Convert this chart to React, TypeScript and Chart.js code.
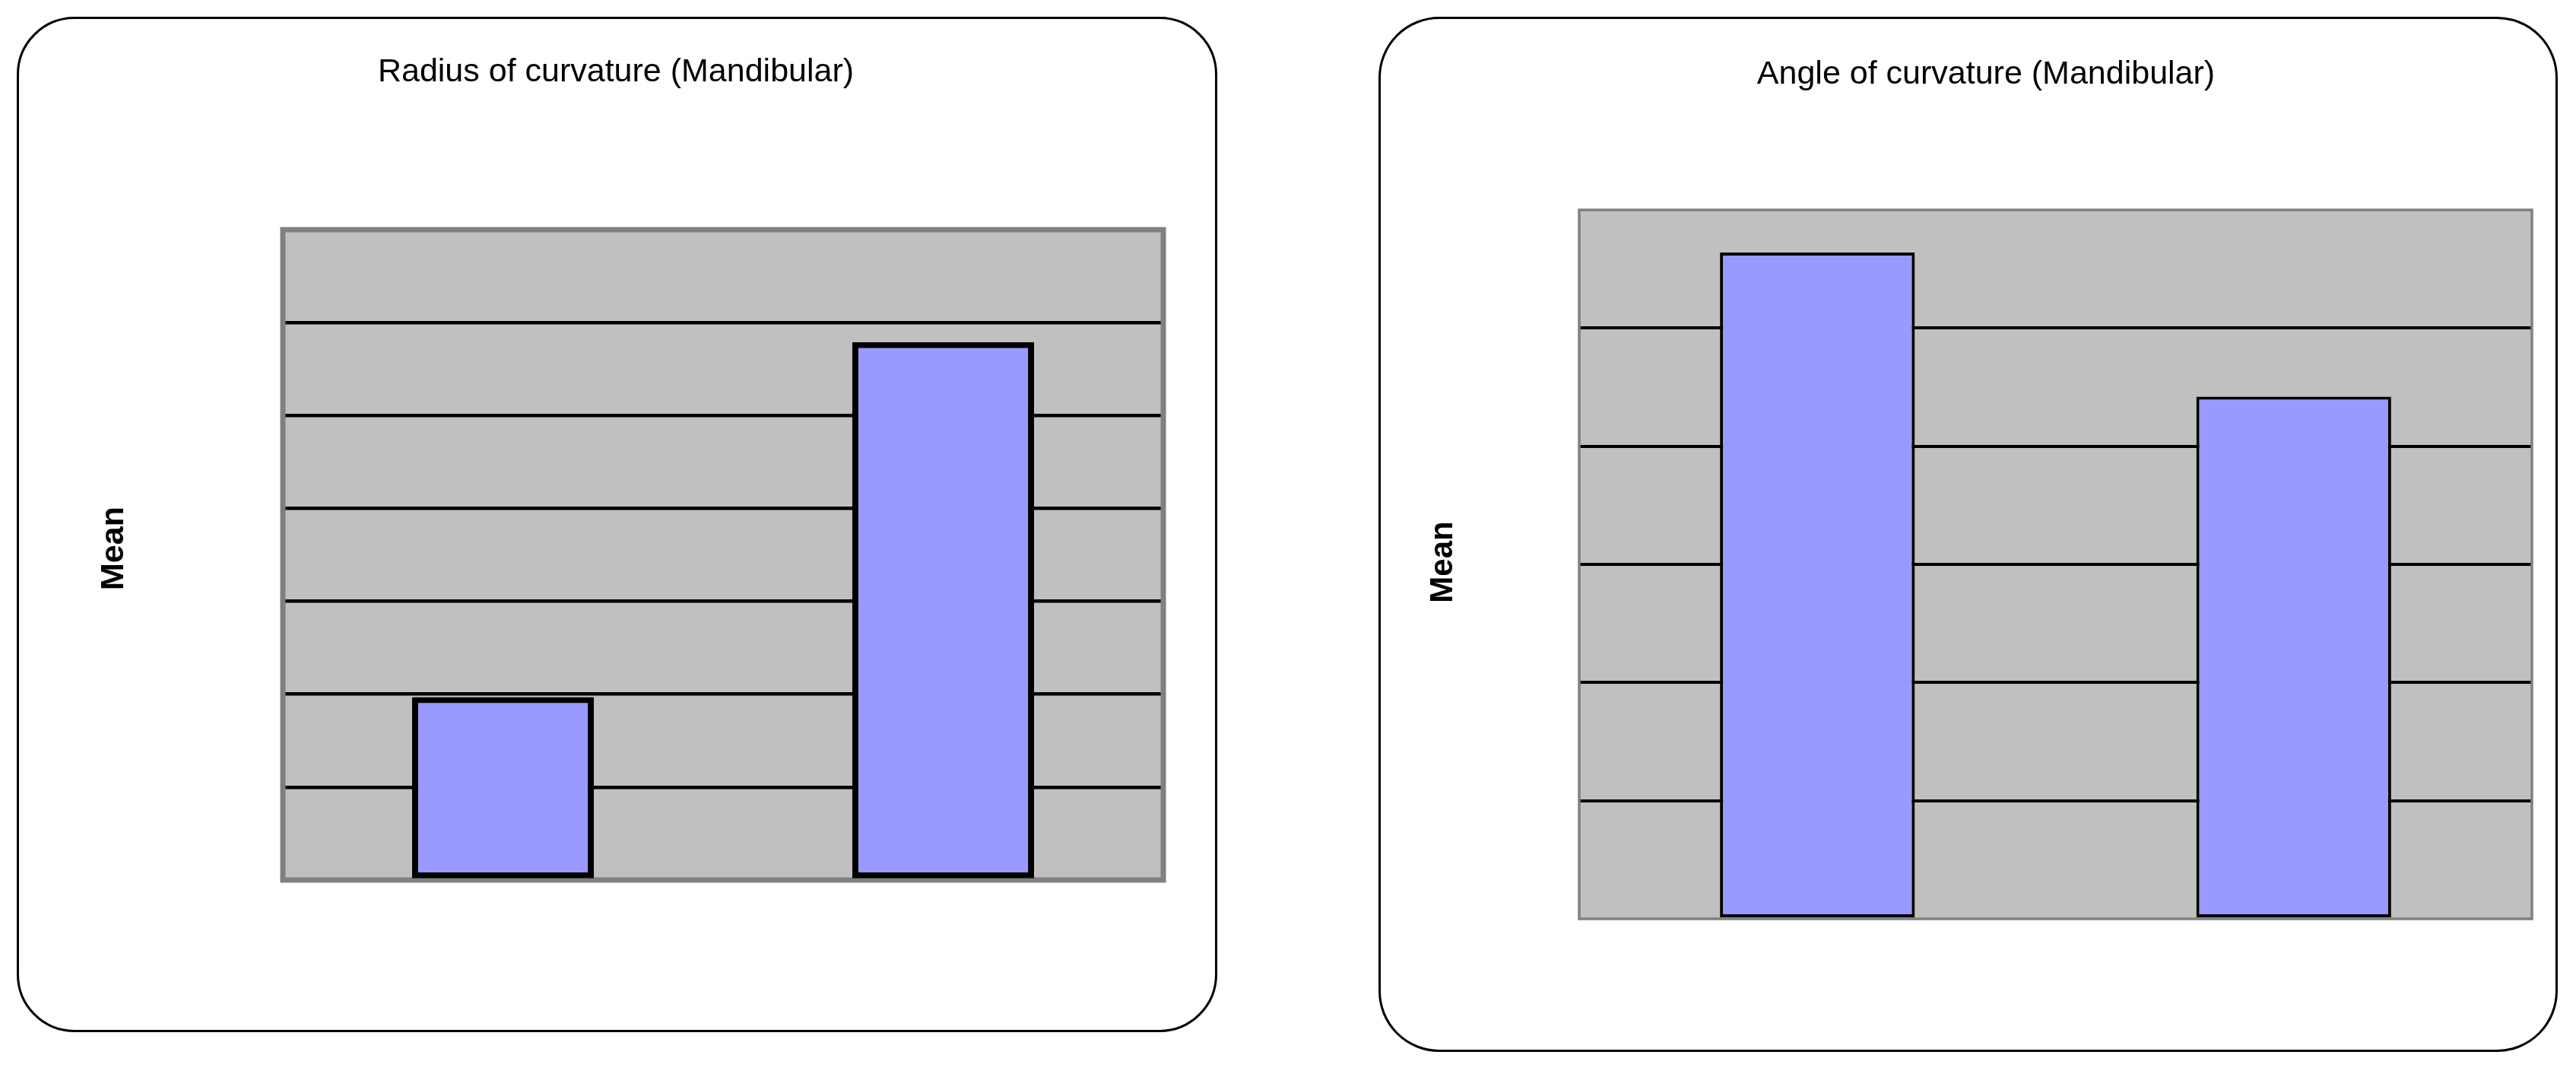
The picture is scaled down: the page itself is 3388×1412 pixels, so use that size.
import React, { useEffect, useRef } from "react";
import { Chart, registerables } from "chart.js";

Chart.register(...registerables);

// ---- data ----
const radiusTitle = "Radius of curvature (Mandibular)";
const angleTitle = "Angle of curvature (Mandibular)";
const yAxisLabel = "Mean";
const categories = ["1", "2"];
const radiusValues = [1.97, 5.79];
const angleValues = [5.64, 4.42];
const radiusAxisMax = 7;
const angleAxisMax = 6;

type PanelSpec = {
  title: string;
  values: number[];
  axisMax: number;
  box: { x: number; y: number; w: number; h: number; r: number };
  area: { left: number; top: number; right: number; bottom: number };
  gridWidth: number;
  frameWidth: number;
  barBorder: number;
  barPct: number;
  titlePos: { x: number; y: number; size: number };
  meanPos: { x: number; y: number; size: number };
};

const panels: PanelSpec[] = [
  {
    title: radiusTitle,
    values: radiusValues,
    axisMax: radiusAxisMax,
    box: { x: 22, y: 22, w: 1579, h: 1335, r: 76 },
    area: { left: 372, top: 302, right: 1530, bottom: 1157 },
    gridWidth: 4.5,
    frameWidth: 7,
    barBorder: 8,
    barPct: 0.413,
    titlePos: { x: 810, y: 107, size: 43 },
    meanPos: { x: 162, y: 721, size: 43 },
  },
  {
    title: angleTitle,
    values: angleValues,
    axisMax: angleAxisMax,
    box: { x: 1813, y: 22, w: 1551, h: 1361, r: 80 },
    area: { left: 2077, top: 276, right: 3330, bottom: 1208 },
    gridWidth: 4,
    frameWidth: 3.5,
    barBorder: 4,
    barPct: 0.409,
    titlePos: { x: 2612, y: 110, size: 43 },
    meanPos: { x: 1910, y: 739, size: 42 },
  },
];

function ChartPanel({ spec }: { spec: PanelSpec }) {
  const ref = useRef<HTMLCanvasElement | null>(null);

  useEffect(() => {
    if (!ref.current) return;
    const { box, area } = spec;
    const frame = {
      id: "plotFrame",
      beforeDraw(chart: any) {
        const a = chart.chartArea;
        const c = chart.ctx;
        c.save();
        c.fillStyle = "#C0C0C0";
        c.fillRect(a.left, a.top, a.right - a.left, a.bottom - a.top);
        c.restore();
      },
      beforeDatasetsDraw(chart: any) {
        const a = chart.chartArea;
        const c = chart.ctx;
        c.save();
        c.strokeStyle = "#808080";
        c.lineWidth = spec.frameWidth;
        c.strokeRect(a.left, a.top, a.right - a.left, a.bottom - a.top);
        c.restore();
      },
      afterDraw(chart: any) {
        const c = chart.ctx;
        c.save();
        c.fillStyle = "#000000";
        c.textAlign = "center";
        c.textBaseline = "alphabetic";
        c.font = `${spec.titlePos.size}px "Liberation Sans", Arial, sans-serif`;
        c.fillText(spec.title, spec.titlePos.x - box.x, spec.titlePos.y - box.y);
        c.translate(spec.meanPos.x - box.x, spec.meanPos.y - box.y);
        c.rotate(-Math.PI / 2);
        c.font = `bold ${spec.meanPos.size}px "Liberation Sans", Arial, sans-serif`;
        c.fillText(yAxisLabel, 0, 0);
        c.restore();
      },
    };

    const chart = new Chart(ref.current, {
      type: "bar",
      data: {
        labels: categories,
        datasets: [
          {
            data: spec.values,
            backgroundColor: "#9999FF",
            borderColor: "#000000",
            borderWidth: spec.barBorder,
            borderSkipped: false,
            barPercentage: spec.barPct,
            categoryPercentage: 1,
          },
        ],
      },
      options: {
        animation: false,
        responsive: false,
        devicePixelRatio: 1,
        layout: {
          padding: {
            left: area.left - box.x,
            top: area.top - box.y,
            right: box.x + box.w - area.right,
            bottom: box.y + box.h - area.bottom,
          },
        },
        plugins: {
          legend: { display: false },
          title: { display: false },
          tooltip: { enabled: false },
        },
        scales: {
          x: { display: false },
          y: {
            display: true,
            min: 0,
            max: spec.axisMax,
            ticks: { display: false, stepSize: 1 },
            border: { display: false },
            grid: {
              drawTicks: false,
              lineWidth: spec.gridWidth,
              color: (ctx: any) =>
                ctx.tick && (ctx.tick.value === 0 || ctx.tick.value === spec.axisMax)
                  ? "rgba(0,0,0,0)"
                  : "#000000",
            },
          },
        },
      },
      plugins: [frame],
    });
    return () => chart.destroy();
  }, [spec]);

  const { box } = spec;
  return (
    <>
      <div
        style={{
          position: "absolute",
          left: box.x,
          top: box.y,
          width: box.w,
          height: box.h,
          border: "3px solid #000",
          borderRadius: box.r,
          boxSizing: "border-box",
          background: "#fff",
        }}
      />
      <canvas
        ref={ref}
        width={box.w}
        height={box.h}
        style={{ position: "absolute", left: box.x, top: box.y, width: box.w, height: box.h }}
      />
    </>
  );
}

export default function App() {
  return (
    <div style={{ width: 3372, height: 1396 }}>
      {panels.map((p, i) => (
        <ChartPanel key={i} spec={p} />
      ))}
    </div>
  );
}
